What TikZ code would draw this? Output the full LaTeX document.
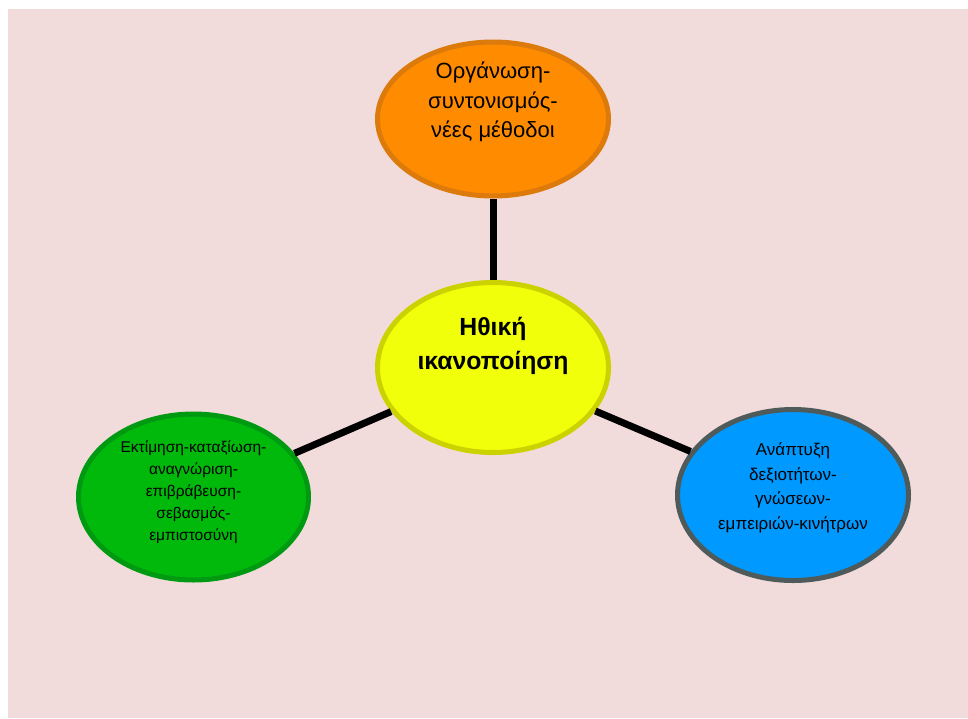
\documentclass[tikz,border=0pt]{standalone}
\usepackage{fontspec}
\setmainfont{Liberation Sans}
\usetikzlibrary{shapes.geometric}

\definecolor{bgpink}{HTML}{F2DCDB}
\definecolor{orangefill}{HTML}{FF8C00}
\definecolor{orangeedge}{HTML}{DC7A0C}
\definecolor{yellowfill}{HTML}{F2FF0A}
\definecolor{yellowedge}{HTML}{CCD100}
\definecolor{greenfill}{HTML}{00B90A}
\definecolor{greenedge}{HTML}{009A12}
\definecolor{bluefill}{HTML}{0099FF}
\definecolor{blueedge}{HTML}{4F5B5B}

\tikzset{
  bubble/.style={ellipse, line width=5pt, inner sep=0pt},
  spoke/.style={line width=7pt, black},
  bigtxt/.style={align=center, inner sep=0pt, font=\fontsize{22}{29.5}\selectfont},
  boldtxt/.style={align=center, inner sep=0pt, font=\fontsize{24.8}{34}\selectfont\bfseries},
  smalltxt/.style={align=center, inner sep=0pt, font=\fontsize{15.5}{22}\selectfont},
  midtxt/.style={align=center, inner sep=0pt, font=\fontsize{17}{24.5}\selectfont},
}

\begin{document}
\begin{tikzpicture}[x=1pt, y=-1pt]
  \useasboundingbox (0,0) rectangle (968,718);
  \fill[white] (0,0) rectangle (968,718);
  \fill[bgpink] (8,9) rectangle (968,718);

  % the four bubbles
  \node[bubble, draw=orangeedge, fill=orangefill, minimum width=231pt, minimum height=154pt] (top) at (493,119) {};
  \node[bubble, draw=yellowedge, fill=yellowfill, minimum width=231pt, minimum height=170pt] (hub) at (493,367.5) {};
  \node[bubble, draw=greenedge, fill=greenfill, minimum width=230pt, minimum height=166pt] (left) at (193.5,497) {};
  \node[bubble, draw=blueedge, fill=bluefill, minimum width=231pt, minimum height=171pt] (right) at (793,495) {};

  % spokes from the hub
  \draw[spoke] (hub) -- (top);
  \draw[spoke] (hub) -- (left);
  \draw[spoke] (hub) -- (right);

  % labels
  \node[bigtxt] (toptxt) at (493,102) {Οργάνωση-\\συντονισμός-\\νέες μέθοδοι};
  \node[boldtxt] (hubtxt) at (493,346) {Ηθική\\ικανοποίηση};
  \node[smalltxt] (lefttxt) at (193.5,492) {Εκτίμηση-καταξίωση-\\αναγνώριση-\\επιβράβευση-\\σεβασμός-\\εμπιστοσύνη};
  \node[midtxt] (righttxt) at (793,488) {Ανάπτυξη\\δεξιοτήτων-\\γνώσεων-\\εμπειριών-κινήτρων};
\end{tikzpicture}
\end{document}
